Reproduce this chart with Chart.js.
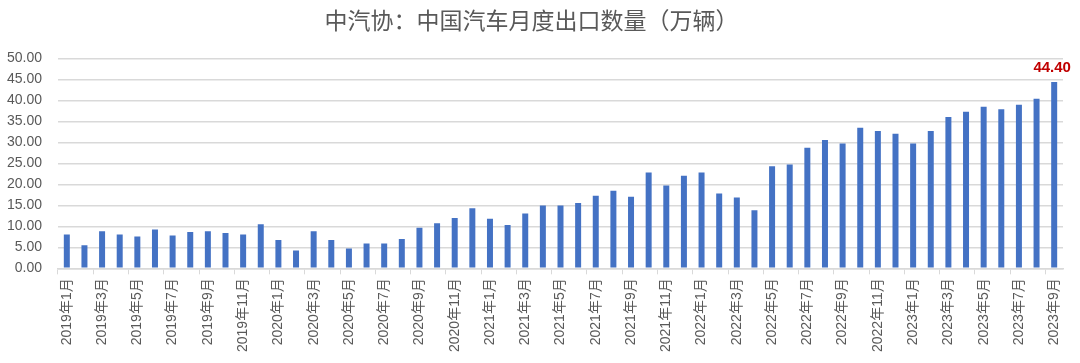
<!DOCTYPE html>
<html>
<head>
<meta charset="utf-8">
<script src="https://cdn.jsdelivr.net/npm/chart.js@4"></script>
<style>
  html, body { margin: 0; padding: 0; background: #fff; }
  #wrap { width: 1080px; height: 363px; }
</style>
</head>
<body>
<div id="wrap"><canvas id="chart"></canvas></div>
<script>
const years = [2019, 2020, 2021, 2022, 2023];
const months = [];
years.forEach(function (y) {
  for (let m = 1; m <= 12; m++) {
    if (y === 2023 && m > 9) break;
    months.push(y + "年" + m + "月");
  }
});

// 月度出口数量（万辆）
const exports2019 = [8.04, 5.5, 8.84, 8.04, 7.56, 9.24, 7.8, 8.68, 8.84, 8.44, 8.04, 10.5];
const exports2020 = [6.77, 4.22, 8.84, 6.77, 4.7, 5.9, 5.9, 7.0, 9.7, 10.75, 12.0, 14.3];
const exports2021 = [11.8, 10.35, 13.06, 14.97, 14.97, 15.6, 17.28, 18.47, 17.04, 22.85, 19.75, 22.05];
const exports2022 = [22.85, 17.83, 16.88, 13.85, 24.36, 24.76, 28.74, 30.57, 29.78, 33.52, 32.72, 32.09];
const exports2023 = [29.78, 32.72, 36.07, 37.34, 38.54, 37.9, 39.0, 40.45, 44.4];
const values = [].concat(exports2019, exports2020, exports2021, exports2022, exports2023);

const yTicks = [0, 5, 10, 15, 20, 25, 30, 35, 40, 45, 50];

const lastLabel = {
  id: "lastLabel",
  afterDatasetsDraw(chart) {
    const meta = chart.getDatasetMeta(0);
    const i = values.length - 1;
    const bar = meta.data[i];
    const ctx = chart.ctx;
    ctx.save();
    ctx.font = "bold 15px 'Liberation Sans', Arial, sans-serif";
    ctx.fillStyle = "#c00000";
    ctx.textAlign = "center";
    ctx.textBaseline = "bottom";
    ctx.fillText(values[i].toFixed(2), bar.x - 2, bar.y - 7);
    ctx.restore();
  }
};

new Chart(document.getElementById("chart"), {
  type: "bar",
  data: {
    labels: months,
    datasets: [
      {
        label: "出口数量",
        data: values,
        backgroundColor: "#4472c4",
        barPercentage: 0.68,
        categoryPercentage: 0.5,
      },
    ],
  },
  options: {
    responsive: true,
    maintainAspectRatio: false,
    animation: false,
    layout: { padding: { left: 0, right: 17, top: 0, bottom: 7 } },
    plugins: {
      legend: { display: false },
      tooltip: { enabled: false },
      title: {
        display: true,
        text: "中汽协：中国汽车月度出口数量（万辆）",
        color: "#595959",
        font: { family: "'Noto Sans CJK SC', sans-serif", size: 23, weight: "normal" },
        padding: { top: 6, bottom: 25 },
      },
    },
    scales: {
      x: {
        grid: {
          offset: true,
          drawOnChartArea: false,
          tickLength: 6,
          tickColor: function (c) { return c.index % 2 === 0 ? "#d9d9d9" : "rgba(0,0,0,0)"; },
        },
        border: { color: "#d9d9d9", width: 1.5 },
        ticks: {
          autoSkip: false,
          minRotation: 90,
          maxRotation: 90,
          padding: 4,
          color: "#595959",
          font: { family: "'Liberation Sans', 'Noto Sans CJK SC', sans-serif", size: 14 },
          callback: function (v, i) { return i % 2 === 0 ? months[i] : ""; },
        },
      },
      y: {
        min: 0,
        max: 50,
        afterBuildTicks: function (axis) { axis.ticks = yTicks.map(function (v) { return { value: v }; }); },
        afterFit: function (axis) { axis.width = 58; },
        grid: { color: "#d9d9d9", lineWidth: 1.5, drawTicks: false },
        border: { display: false },
        ticks: {
          padding: 16,
          color: "#595959",
          font: { family: "'Liberation Sans', sans-serif", size: 14 },
          callback: function (v) { return v.toFixed(2); },
        },
      },
    },
  },
  plugins: [lastLabel],
});
</script>
</body>
</html>
